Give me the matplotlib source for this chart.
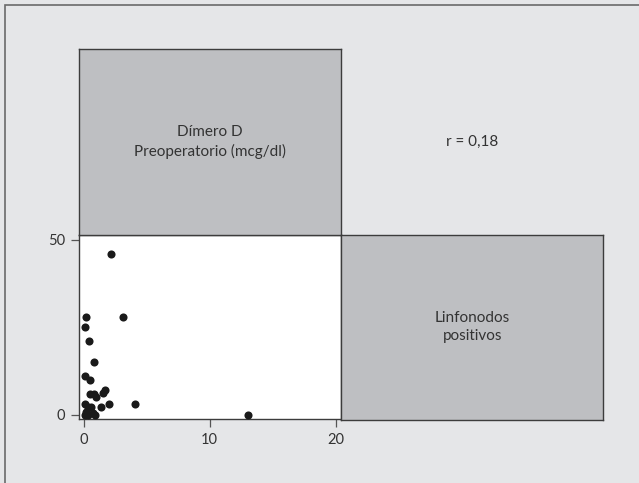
import matplotlib.pyplot as plt
from matplotlib.patches import Rectangle

# Dímero D (x) vs Linfonodos positivos (y)
dimero = [2.15, 0.2, 3.15, 0.1, 0.45, 0.78, 0.08, 0.48,
          0.5, 0.8, 0.95, 1.55, 1.65, 0.08, 0.35, 0.55,
          1.4, 2.0, 4.05, 0.08, 0.3, 0.9, 13.0, 0.2, 0.7]
linfonodos = [46, 28, 28, 25, 21, 15, 11, 10,
              6, 6, 5.2, 6.3, 7.1, 3.1, 2.3, 2.3,
              2.1, 3.1, 3.1, 0, 0, 0, 0, 0.8, 0.5]
xticks = [0, 10, 20]
yticks = [0, 50]
label_x = "Dímero D\nPreoperatorio (mcg/dl)"
label_y = "Linfonodos\npositivos"
r_text = "r = 0,18"

W, H = 639, 483
bg = "#e5e6e8"
panel_gray = "#bebfc2"
edge = "#3c3c3c"
txt = "#333333"
plt.rcParams["font.family"] = ["Lato", "DejaVu Sans"]

fig = plt.figure(figsize=(W / 100, H / 100), dpi=100, facecolor=bg)

# outer frame (only left and top visible in the crop)
fig.patches.append(Rectangle((4.7 / W, -0.1), 1.2, (H - 5.3) / H + 0.1,
                             transform=fig.transFigure, fill=False,
                             edgecolor="#6a6a6a", lw=1.2))

def px_axes(x0, y0, x1, y1):
    return fig.add_axes([x0 / W, 1 - y1 / H, (x1 - x0) / W, (y1 - y0) / H])

# scatter panel
ax = px_axes(78.7, 234.7, 341, 419.3)
ax.set_facecolor("white")
ax.scatter(dimero, linfonodos, s=34, color="#1a1a1a", zorder=3, linewidths=0)
ax.set_xlim(-0.4, 20.42)
ax.set_ylim(-1.3, 51.5)
ax.set_xticks(xticks)
ax.set_yticks(yticks)
ax.tick_params(length=6, width=0.9, color="#555555", labelcolor=txt,
               labelsize=10.5, pad=4)
for s in ax.spines.values():
    s.set_color(edge)
    s.set_linewidth(1.0)

# label panels
ax_l = px_axes(78.7, 49.3, 341, 234.7)
ax_r = px_axes(341, 234.7, 603.3, 420)
for a, lab in [(ax_l, label_x), (ax_r, label_y)]:
    a.set_facecolor(panel_gray)
    a.set_xticks([])
    a.set_yticks([])
    for s in a.spines.values():
        s.set_color(edge)
        s.set_linewidth(1.0)
    a.text(0.5, 0.5, lab, transform=a.transAxes, ha="center", va="center",
           fontsize=11, color=txt, linespacing=1.35)

fig.text(471.7 / W, 1 - 141.7 / H, r_text, ha="center", va="center",
         fontsize=11, color=txt)

fig.savefig("out.png", dpi=100, facecolor=bg)
